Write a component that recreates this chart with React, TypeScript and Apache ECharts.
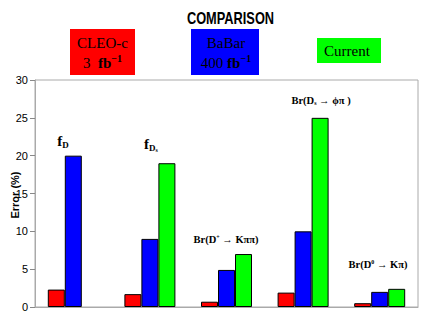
import React, { useEffect, useRef } from "react";
import * as echarts from "echarts";

const categories = ["fD", "fDs", "BrKpipi", "BrPhiPi", "BrKpi"];
const cleoValues = [2.3, 1.7, 0.7, 1.9, 0.5];
const babarValues = [20, 9, 4.9, 10, 2];
const currentValues = [null, 19, 7, 25, 2.4];
const yTicks = [0, 5, 10, 15, 20, 25, 30];

export default function App() {
  const ref = useRef<HTMLDivElement>(null);
  useEffect(() => {
    if (!ref.current) return;
    const chart = echarts.init(ref.current, null, { renderer: "svg" });
    const serif = "Liberation Serif";
    const sans = "Liberation Sans";
    const barStyle = (c: string) => ({ color: c, borderColor: "#000", borderWidth: 1 });
    const supRich = {
      n: { fontFamily: serif, fontSize: 15, color: "#000", lineHeight: 20 },
      b: { fontFamily: serif, fontSize: 15, fontWeight: "bold", color: "#000", lineHeight: 20 },
      sup: { fontFamily: serif, fontSize: 10, fontWeight: "bold", color: "#000", verticalAlign: "top", lineHeight: 20 },
    };
    chart.setOption({
      animation: false,
      backgroundColor: "#fff",
      grid: { left: 35, right: 18, top: 80, bottom: 20, containLabel: false, outerBoundsMode: "none" },
      xAxis: {
        type: "category",
        data: categories,
        axisLabel: { show: false },
        axisTick: { show: false },
        axisLine: { lineStyle: { color: "#aaa" } },
      },
      yAxis: {
        type: "value",
        min: yTicks[0],
        max: yTicks[yTicks.length - 1],
        interval: 5,
        splitLine: { show: false },
        axisLine: { show: true, lineStyle: { color: "#aaa" } },
        axisTick: { show: true, length: 5, lineStyle: { color: "#888" } },
        axisLabel: { fontFamily: sans, fontSize: 11, color: "#000", margin: 7 },
      },
      series: [
        { type: "bar", name: "CLEO-c", data: cleoValues, itemStyle: barStyle("#ff0000"), barWidth: 17, barGap: "0%" },
        { type: "bar", name: "BaBar", data: babarValues, itemStyle: barStyle("#0000ff"), barWidth: 17, barGap: "0%" },
        { type: "bar", name: "Current", data: currentValues, itemStyle: barStyle("#00ff00"), barWidth: 17, barGap: "0%" },
      ],
      graphic: [
        { type: "rect", shape: { x: 35, y: 80, width: 383, height: 227 }, style: { fill: "none", stroke: "#aaa", lineWidth: 1 }, silent: true },
        {
          type: "text", x: 15, y: 195, rotation: Math.PI / 2,
          style: { text: "Error (%)", align: "center", verticalAlign: "middle", fontFamily: sans, fontWeight: "bold", fontSize: 11, fill: "#000" },
        },
        {
          type: "text", x: 230.5, y: 18, scaleX: 0.8,
          style: { text: "COMPARISON", align: "center", verticalAlign: "middle", fontFamily: sans, fontWeight: "bold", fontSize: 16, fill: "#000" },
        },
        { type: "rect", shape: { x: 70, y: 29, width: 65, height: 46 }, style: { fill: "#ff0000" } },
        {
          type: "text", x: 102.5, y: 53,
          style: { text: "{n|CLEO-c}\n{n|3  }{b|fb}{sup|−1}", align: "center", verticalAlign: "middle", rich: supRich },
        },
        { type: "rect", shape: { x: 191, y: 29, width: 68, height: 46 }, style: { fill: "#0000ff" } },
        {
          type: "text", x: 226, y: 53,
          style: { text: "{n|BaBar}\n{n|400 }{b|fb}{sup|−1}", align: "center", verticalAlign: "middle", rich: supRich },
        },
        { type: "rect", shape: { x: 317, y: 38, width: 64, height: 25 }, style: { fill: "#00ff00" } },
        { type: "text", x: 347, y: 51, style: { text: "Current", align: "center", verticalAlign: "middle", fontFamily: serif, fontSize: 15, fill: "#000" } },
        {
          type: "text", x: 63, y: 141,
          style: { text: "{f|f}{s|D}", align: "center", verticalAlign: "middle", rich: { f: { fontFamily: serif, fontWeight: "bold", fontSize: 15 }, s: { fontFamily: serif, fontWeight: "bold", fontSize: 9, padding: [7, 0, 0, 0] } } },
        },
        {
          type: "text", x: 151, y: 144,
          style: { text: "{f|f}{s|D}{ss|s}", align: "center", verticalAlign: "middle", rich: { f: { fontFamily: serif, fontWeight: "bold", fontSize: 15 }, s: { fontFamily: serif, fontWeight: "bold", fontSize: 9, padding: [7, 0, 0, 0] }, ss: { fontFamily: serif, fontWeight: "bold", fontSize: 6, padding: [12, 0, 0, 0] } } },
        },
        {
          type: "text", x: 226, y: 239,
          style: { text: "{m|Br(D}{p|+}{m| → Kππ)}", align: "center", verticalAlign: "middle", rich: { m: { fontFamily: serif, fontWeight: "bold", fontSize: 10.5 }, p: { fontFamily: serif, fontWeight: "bold", fontSize: 6, padding: [0, 0, 5, 0] } } },
        },
        {
          type: "text", x: 321, y: 100,
          style: { text: "{m|Br(D}{s|s}{m| → ϕπ )}", align: "center", verticalAlign: "middle", rich: { m: { fontFamily: serif, fontWeight: "bold", fontSize: 10.5 }, s: { fontFamily: serif, fontWeight: "bold", fontSize: 6, padding: [5, 0, 0, 0] } } },
        },
        {
          type: "text", x: 378, y: 264,
          style: { text: "{m|Br(D}{p|0}{m| → Kπ)}", align: "center", verticalAlign: "middle", rich: { m: { fontFamily: serif, fontWeight: "bold", fontSize: 10.5 }, p: { fontFamily: serif, fontWeight: "bold", fontSize: 6, padding: [0, 0, 5, 0] } } },
        },
      ],
    });
    return () => chart.dispose();
  }, []);
  return <div ref={ref} style={{ position: "fixed", left: 0, top: 0, width: 436, height: 327 }} />;
}
